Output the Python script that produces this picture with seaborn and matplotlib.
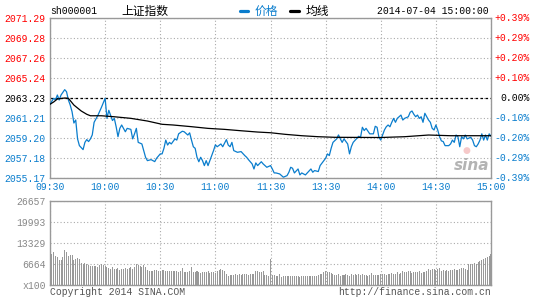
import matplotlib
matplotlib.use("Agg")
import matplotlib.pyplot as plt
from matplotlib import transforms
from matplotlib.lines import Line2D
import seaborn as sns

# ---------------- data ----------------
prev_close = 2063.23
price_levels = [2055.17, 2057.18, 2059.20, 2061.21, 2063.23, 2065.24, 2067.26, 2069.28, 2071.29]
pct_labels = ["-0.39%", "-0.29%", "-0.20%", "-0.10%", "0.00%", "+0.10%", "+0.20%", "+0.29%", "+0.39%"]
time_ticks = [0, 30, 60, 90, 120, 150, 180, 210, 240]
time_labels = ["09:30", "10:00", "10:30", "11:00", "11:30", "13:30", "14:00", "14:30", "15:00"]
vol_ticks = [0, 6664, 13329, 19993, 26657]
vol_labels = ["x100", "6664", "13329", "19993", "26657"]

price_min = [0, 2, 3, 4, 5, 6, 8, 9, 10, 11,
             12, 13, 14, 15, 16, 18, 19, 20, 21, 22,
             23, 24, 26, 28, 30, 31, 32, 33, 34, 35,
             36, 37, 38, 39, 40, 41, 42, 44, 45, 46,
             47, 48, 50, 51, 52, 53, 55, 57, 58, 60,
             61, 62, 63, 64, 65, 66, 68, 69, 70, 72,
             73, 75, 76, 77, 78, 79, 80, 81, 82, 83,
             84, 85, 86, 87, 88, 89, 90, 91, 93, 94,
             96, 97, 98, 99, 100, 102, 104, 106, 107, 108,
             110, 111, 112, 113, 115, 116, 118, 120, 121, 122,
             123, 125, 126, 127, 129, 130, 131, 132, 133, 135,
             136, 137, 139, 140, 142, 143, 144, 146, 147, 149,
             150, 151, 152, 153, 154, 156, 157, 158, 159, 160,
             162, 163, 164, 165, 167, 168, 169, 170, 171, 172,
             174, 176, 177, 178, 179, 180, 181, 182, 183, 184,
             185, 186, 187, 188, 189, 190, 191, 192, 193, 195,
             196, 197, 198, 199, 200, 201, 202, 203, 204, 205,
             206, 207, 208, 209, 210, 211, 212, 213, 214, 215,
             217, 218, 219, 220, 221, 222, 223, 224, 225, 226,
             227, 229, 230, 231, 232, 233, 234, 235, 236, 237,
             238, 239, 240]
price_val = [2062.60, 2063.20, 2063.03, 2063.53, 2063.03, 2063.53, 2064.07, 2063.86, 2063.03, 2062.52,
             2061.85, 2060.71, 2061.01, 2059.11, 2058.43, 2058.03, 2058.76, 2059.04, 2058.84, 2059.11,
             2059.51, 2060.78, 2061.46, 2062.29, 2063.20, 2061.18, 2061.99, 2061.46, 2060.96, 2061.18,
             2060.33, 2059.33, 2060.17, 2060.51, 2060.17, 2059.83, 2060.17, 2060.07, 2059.11, 2059.62,
             2060.17, 2058.76, 2058.60, 2057.93, 2057.26, 2056.92, 2057.02, 2056.82, 2057.16, 2057.60,
             2057.60, 2058.16, 2058.99, 2058.49, 2058.76, 2058.60, 2059.11, 2058.99, 2059.62, 2059.88,
             2059.83, 2059.50, 2059.72, 2058.99, 2058.32, 2058.16, 2057.26, 2056.81, 2057.26, 2056.92,
             2056.42, 2056.92, 2056.42, 2056.92, 2057.43, 2057.93, 2058.51, 2058.32, 2058.60, 2058.32,
             2059.04, 2058.49, 2058.32, 2058.76, 2057.93, 2057.76, 2057.83, 2057.43, 2057.26, 2057.02,
             2056.59, 2056.08, 2056.69, 2056.42, 2056.81, 2056.59, 2056.25, 2056.42, 2056.08, 2055.68,
             2055.68, 2055.58, 2055.41, 2055.25, 2055.41, 2055.75, 2056.25, 2056.15, 2055.68, 2056.08,
             2055.48, 2055.68, 2055.48, 2055.68, 2056.08, 2055.75, 2055.92, 2055.82, 2056.42, 2056.92,
             2057.16, 2057.60, 2057.43, 2058.16, 2058.76, 2059.11, 2059.51, 2059.11, 2058.76, 2059.11,
             2058.60, 2057.60, 2058.32, 2058.76, 2059.17, 2059.37, 2059.27, 2060.28, 2059.95, 2060.17,
             2059.62, 2059.62, 2060.38, 2060.28, 2059.27, 2058.99, 2059.51, 2060.01, 2060.33, 2060.51,
             2060.33, 2060.78, 2061.18, 2060.78, 2061.18, 2061.34, 2061.51, 2061.01, 2061.18, 2061.34,
             2061.79, 2061.92, 2061.59, 2061.34, 2061.51, 2061.18, 2061.34, 2060.78, 2061.69, 2061.34,
             2061.01, 2060.78, 2060.17, 2060.01, 2060.51, 2060.01, 2059.33, 2058.91, 2058.84, 2058.43,
             2058.43, 2058.60, 2058.99, 2058.76, 2059.50, 2059.33, 2058.32, 2059.33, 2059.11, 2059.50,
             2059.11, 2059.27, 2058.99, 2058.43, 2058.32, 2058.60, 2058.99, 2059.62, 2058.99, 2059.50,
             2058.99, 2059.62, 2059.38]

avg_min = [0, 2, 4, 8, 10, 13, 17, 20, 22, 28, 35, 44, 53, 61, 67,
           77, 86, 95, 104, 113, 120, 128, 137, 146, 155, 180, 193, 206, 218, 240]
avg_val = [2062.60, 2062.83, 2063.13, 2063.23, 2063.20, 2062.52, 2061.92, 2061.59, 2061.44, 2061.44,
           2061.34, 2061.18, 2060.91, 2060.58, 2060.51, 2060.34, 2060.17, 2060.07, 2059.93, 2059.80,
           2059.73, 2059.57, 2059.43, 2059.33, 2059.27, 2059.25, 2059.33, 2059.50, 2059.43, 2059.43]

vol_val = [8300, 9900, 10600, 9300, 8900, 8000, 8000, 8900, 11200, 10400,
           9100, 9600, 9600, 8000, 8300, 8500, 8300, 7000, 6800, 6900,
           6700, 6400, 6100, 6100, 5900, 6000, 5800, 6300, 6700, 6200, 5900,
           5600, 5400, 5200, 5700, 5100, 5000, 5300, 4900, 5200, 5000, 5400, 5100, 5300, 5600, 5200,
           5600, 6700, 6300, 6000, 5800, 6500, 5600,
           4700, 4500, 4400, 4600, 4700, 4900, 4600, 4500, 4800, 4700,
           4500, 4400, 4600, 4400, 4300, 4500, 4400, 4200, 4300,
           5400,
           4000, 4200, 4100, 4400, 5700, 4200, 4000, 4300, 4100, 3900,
           4000, 4100, 4200, 4300, 3900, 4000, 4100, 3900,
           4300, 4800, 5100, 4900, 4500,
           3400, 3000, 3200, 3100, 3300, 3400, 3200, 3500, 3300, 3400, 3600, 3500, 3200, 3400, 3600, 3500,
           4500, 4600, 4200, 4000, 4300,
           3300, 3100, 3000,
           8300,
           3300, 3100, 2900, 2700, 3600, 2600,
           2700, 2800, 2900, 2800, 2900, 2700, 2800, 2900, 2700, 2600, 2800,
           2900, 2800, 2700, 2900, 2800, 3000, 2700, 2900, 3200, 3400, 3600,
           4100, 4300, 4200, 4000, 3800, 3500,
           3300, 3200, 3400, 3000, 3300, 3100, 3400, 3200, 3000, 3600, 3300, 3500, 3300,
           3400, 3200, 3500, 3300, 3100, 2900, 3300, 3800, 3300, 3100, 3300, 3200, 3500,
           3500, 3400, 3300, 3600, 3400, 3800, 3500,
           3600, 4200, 3500, 3900, 4300, 4200, 4000, 4300, 4400,
           3900, 4200, 4100, 4000, 4300, 3800, 4100, 4200, 4400,
           5100, 4900, 5000, 5200, 4800, 5000, 5300,
           4600, 4900, 4300, 4700, 4600, 4900, 4700, 5000, 4800, 4900,
           5000, 5300, 5400, 5200, 4900,
           6700, 6800, 6600, 6900, 6700,
           7300, 7600, 7900, 8300, 8700,
           8900, 9300, 9700]
vol_min = list(range(len(vol_val)))

# ---------------- style ----------------
BLUE = "#0a7dcd"
RED = "#ff0000"
GRID = "#aaaaaa"
BORDER = "#999999"

sns.set_style("white")
plt.rcParams["font.family"] = ["Liberation Mono", "Noto Sans CJK SC", "DejaVu Sans"]

W, H = 545, 300
fig = plt.figure(figsize=(W / 100, H / 100), dpi=100)
fig.patch.set_facecolor("white")


def rect(l, t, r, b):
    return [l / W, 1 - b / H, (r - l) / W, (b - t) / H]


def fx(x):
    return x / W


def fy(y):
    return 1 - y / H


ax = fig.add_axes(rect(50, 18, 491, 178))
axv = fig.add_axes(rect(50, 201, 491, 285))

# ---- price panel ----
ax.axhline(prev_close, color="black", ls=(0, (2, 2)), lw=0.9, zorder=2)
sns.lineplot(x=price_min, y=price_val, ax=ax, color=BLUE, linewidth=0.9, zorder=3)
sns.lineplot(x=avg_min, y=avg_val, ax=ax, color="black", linewidth=0.9, zorder=4)
ax.set_xlim(0, 240)
ax.set_ylim(price_levels[0], price_levels[-1])
ax.set_yticks(price_levels)
ax.set_yticklabels([f"{v:.2f}" for v in price_levels])
ax.set_xticks(time_ticks)
ax.set_xticklabels(time_labels)
ax.set_xlabel("")
ax.set_ylabel("")
ax.grid(True, color=GRID, ls=(0, (1, 2)), lw=0.8, zorder=0)
ax.tick_params(axis="both", length=0, labelsize=7, pad=3)
for lab, v in zip(ax.get_yticklabels(), price_levels):
    lab.set_color(RED if v > prev_close + 0.01 else ("black" if abs(v - prev_close) < 0.01 else BLUE))
for lab in ax.get_xticklabels():
    lab.set_color(BLUE)
for sp in ax.spines.values():
    sp.set_color(BORDER)
    sp.set_linewidth(1)
    sp.set_visible(True)

# right percent labels
tr = transforms.blended_transform_factory(fig.transFigure, ax.transData)
for v, p in zip(price_levels, pct_labels):
    c = RED if p.startswith("+") else ("black" if p == "0.00%" else BLUE)
    ax.text(fx(530), v, p, transform=tr, ha="right", va="center", fontsize=7, color=c, clip_on=False)

# sina watermark
ax.text(fx(472), fy(165), "sina", transform=fig.transFigure, ha="center", va="center",
        fontsize=11, fontweight="bold", fontstyle="italic", color="#b4b4b4",
        family="DejaVu Sans", zorder=1)
ax.text(fx(466), fy(151), "●", transform=fig.transFigure, ha="center", va="center",
        fontsize=6.5, color="#f6c9c9", family="DejaVu Sans", zorder=1)

# ---- volume panel ----
sns.barplot(x=vol_min, y=vol_val, ax=axv, native_scale=True, color="#999999",
            saturation=1, width=0.55, errorbar=None, linewidth=0, zorder=3)
axv.set_xlim(0, 240)
axv.set_ylim(0, vol_ticks[-1])
axv.set_yticks(vol_ticks)
axv.set_yticklabels(vol_labels)
axv.set_xticks(time_ticks)
axv.set_xticklabels([])
axv.set_xlabel("")
axv.set_ylabel("")
axv.grid(True, color=GRID, ls=(0, (1, 2)), lw=0.8, zorder=0)
axv.tick_params(axis="both", length=0, labelsize=7, pad=3, labelcolor="#888888")
for sp in axv.spines.values():
    sp.set_color(BORDER)
    sp.set_linewidth(1)
    sp.set_visible(True)

# ---- header ----
fig.text(fx(50), fy(11), "sh000001", ha="left", va="center", fontsize=7, color="black")
fig.text(fx(121), fy(11), "上证指数", ha="left", va="center", fontsize=8.5, color="black",
         family=["Noto Sans CJK SC", "DejaVu Sans"])
fig.add_artist(Line2D([fx(240), fx(248)], [fy(11), fy(11)], color=BLUE, lw=2.3,
                      transform=fig.transFigure))
fig.text(fx(255), fy(11), "价格", ha="left", va="center", fontsize=8.5, color=BLUE,
         family=["Noto Sans CJK SC", "DejaVu Sans"])
fig.add_artist(Line2D([fx(290), fx(299)], [fy(11), fy(11)], color="black", lw=2.3,
                      transform=fig.transFigure))
fig.text(fx(306), fy(11), "均线", ha="left", va="center", fontsize=8.5, color="black",
         family=["Noto Sans CJK SC", "DejaVu Sans"])
fig.text(fx(377), fy(11), "2014-07-04 15:00:00", ha="left", va="center", fontsize=7, color="black")

# ---- footer ----
fig.text(fx(50), fy(292), "Copyright 2014 SINA.COM", ha="left", va="center", fontsize=7, color="#555555")
fig.text(fx(491), fy(292), "http://finance.sina.com.cn", ha="right", va="center", fontsize=7, color="#555555")

fig.savefig("out.png", dpi=100, facecolor="white")
